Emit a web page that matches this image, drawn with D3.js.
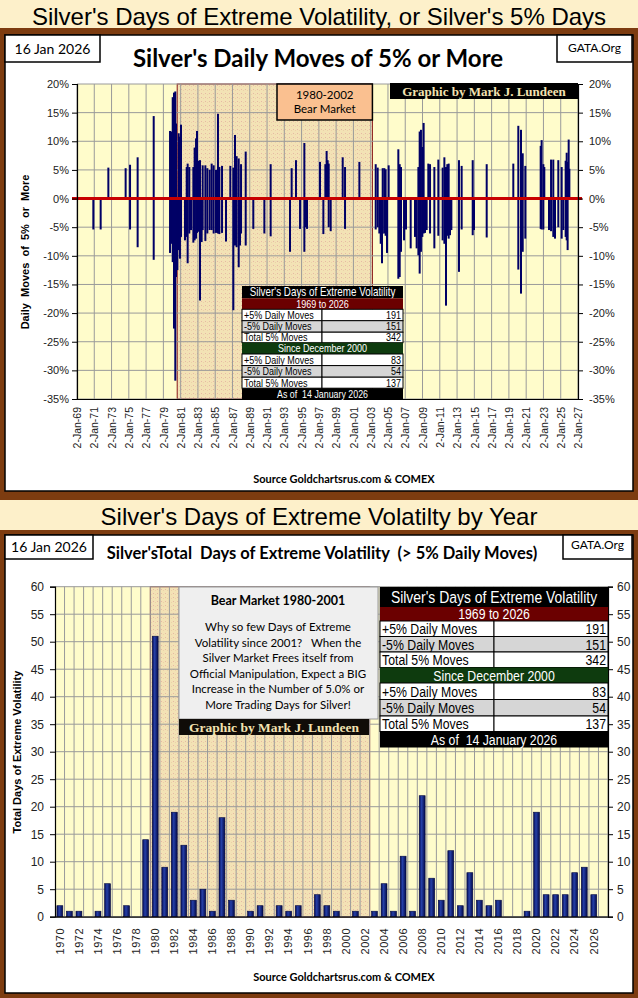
<!DOCTYPE html>
<html>
<head>
<meta charset="utf-8">
<script src="https://cdnjs.cloudflare.com/ajax/libs/d3/7.8.5/d3.min.js"></script>
<style>
body { margin:0; background:#7d3c10; }
svg { display:block; }
</style>
</head>
<body>
<script>
// ---- top chart: daily moves of 5% or more (decimal year, % move) ----
var upYears = [1972.63,1974.63,1975.14,1976.02,1977.88,1979.77,1979.96,
  1980.08,1980.23,1980.38,1980.46,1980.77,1980.92,1981.04,1981.70,1981.81,1982.00,1982.47,1982.62,1982.78,1982.89,
  1983.09,1983.24,1983.55,1983.86,1984.09,1984.36,1984.59,1984.82,1985.09,1985.32,1985.48,1985.79,1986.75,
  1987.10,1987.29,1987.48,1987.72,1987.99,1988.53,1991.42,1993.85,1994.35,1995.32,1997.13,1997.75,1997.90,1998.02,1998.14,
  1999.76,2000.03,2001.69,2003.58,2003.81,2004.39,2004.58,2004.73,2005.08,2006.20,2006.36,2006.51,
  2008.52,2008.67,2008.82,2008.98,2009.13,2009.67,2009.87,2010.37,2010.83,2011.33,2011.53,2011.72,2011.87,2012.03,
  2013.22,2013.53,2014.81,2016.43,2019.51,2020.09,2020.40,2020.60,2020.90,
  2022.68,2022.79,2022.99,2023.10,2023.88,2024.14,2024.72,2025.11,2025.57,2025.69,2025.80,2025.92,2026.00];
var upMoves = [5.4,5.3,5.9,7.2,14.4,11.8,11.7,
  17.7,18.5,18.7,13.1,11.4,10.8,12.9,5.5,6.1,5.5,5.5,8.9,10.5,11.8,
  6.6,6.7,5.8,5.8,5.3,5.0,6.1,5.8,5.0,14.8,5.5,5.7,5.7,
  5.4,11.1,7.4,7.0,6.0,8.2,6.0,5.3,6.7,9.7,6.4,6.0,8.3,6.7,6.1,
  7.2,5.5,6.4,6.0,5.4,5.3,5.3,5.1,5.8,8.6,6.0,5.5,
  5.5,11.7,12.0,9.0,13.2,6.1,6.0,5.5,6.8,5.4,7.2,5.5,6.0,6.1,
  6.7,5.7,6.7,6.0,6.1,12.7,12.0,7.9,5.7,
  9.2,10.2,6.0,5.5,6.8,6.8,6.7,5.5,6.6,8.0,6.4,10.3,5.2];

var downYears = [1970.89,1971.74,1975.14,1976.02,1977.88,1979.77,1979.96,
  1980.08,1980.23,1980.38,1980.46,1980.62,1980.77,1980.92,1981.04,1981.50,1981.70,1981.81,
  1982.00,1982.20,1982.47,1982.62,1982.78,1982.89,1983.09,1983.24,1983.43,1983.55,1983.86,
  1984.09,1984.36,1984.59,1984.82,1985.09,1985.32,1985.48,1985.79,1986.25,
  1987.10,1987.29,1987.48,1987.72,1987.87,1987.99,1988.53,1989.41,1990.69,1991.42,
  1993.66,1994.82,1995.32,1995.51,1995.63,1997.52,1998.14,1998.37,2000.03,
  2003.58,2003.81,2004.00,2004.16,2004.31,2004.39,2004.58,2004.73,2004.89,
  2006.20,2006.36,2006.51,2006.86,2007.09,2007.63,
  2008.13,2008.32,2008.52,2008.67,2008.82,2008.98,2009.13,2009.29,2009.48,2009.87,
  2010.37,2010.83,2011.33,2011.53,2011.72,2011.87,2012.03,2012.18,2012.34,
  2013.22,2013.53,2014.81,2014.96,2016.43,2020.09,2020.40,2020.60,2020.90,
  2022.68,2022.79,2022.99,2023.64,2023.88,2024.14,2024.34,2024.72,2025.11,2025.30,2025.57,2025.69,2025.80];
var downMoves = [-5.4,-5.4,-5.4,-8.5,-10.7,-9.5,-7.9,
  -11.1,-22.7,-31.8,-13.7,-12.5,-9.0,-10.5,-6.7,-7.3,-6.7,-11.3,
  -6.1,-5.5,-7.7,-7.3,-7.0,-6.0,-5.8,-17.8,-7.6,-5.5,-7.4,
  -6.1,-5.5,-5.5,-6.1,-6.0,-6.1,-6.2,-6.0,-7.5,
  -19.5,-8.2,-8.5,-12.0,-8.2,-6.1,-8.2,-5.3,-6.1,-6.6,
  -9.3,-5.3,-9.3,-5.0,-5.3,-6.2,-5.0,-5.7,-5.3,
  -5.4,-5.0,-6.1,-7.9,-11.3,-6.1,-6.1,-6.5,-9.5,
  -14.0,-13.7,-9.3,-7.3,-5.4,-8.7,
  -6.7,-8.7,-9.9,-13.1,-9.3,-6.7,-6.1,-6.0,-5.5,-6.1,
  -8.7,-6.5,-7.3,-7.9,-18.7,-6.5,-7.0,-6.4,-5.5,
  -12.8,-5.4,-6.4,-5.5,-6.8,-12.4,-16.6,-9.3,-7.0,
  -5.3,-5.4,-5.4,-5.5,-5.7,-6.7,-7.0,-5.0,-7.0,-5.5,-6.7,-7.3,-9.0];

var pctTicks = [20, 15, 10, 5, 0, -5, -10, -15, -20, -25, -30, -35];
var dateTicks = d3.range(1969, 2028, 2);       // "2-Jan-69" ... "2-Jan-27"
var bearSpan = [1980.6, 2003.2];

// ---- bottom chart: total days of extreme volatility per year ----
var years = d3.range(1970, 2027);
var yearCounts = [2,1,1,0,1,6,0,2,0,14,
  51,9,19,13,3,5,1,18,3,0,
  1,2,0,2,1,2,0,4,2,1,
  0,1,0,1,6,1,11,1,22,7,
  3,12,2,8,3,2,3,0,0,1,
  19,4,4,4,8,9,4];
var countTicks = [0, 5, 10, 15, 20, 25, 30, 35, 40, 45, 50, 55, 60];
var yearTicks = d3.range(1970, 2027, 2);
var bearYears = [1980, 2002];

// ---- summary table ----
var tableTitle = "Silver's Days of Extreme Volatility";
var tableRanges = ["1969 to 2026", "Since December 2000"];
var moveLabels = ["+5% Daily Moves", "-5% Daily Moves", "Total 5% Moves"];
var movesAll = [191, 151, 342];
var movesSince2000 = [83, 54, 137];
var asOfText = "As of  14 January 2026";

var noteLines = ["Why so few Days of Extreme", "Volatility since 2001?   When the",
  "Silver Market Frees itself from", "Official Manipulation, Expect a BIG",
  "Increase in the Number of 5.0% or", "More Trading Days for Silver!"];

var W = 638, H = 998;
var svg = d3.select("body").append("svg").attr("width", W).attr("height", H);

var defs = svg.append("defs");
var dots = defs.append("pattern").attr("id", "bearDots")
    .attr("width", 4).attr("height", 4).attr("patternUnits", "userSpaceOnUse");
dots.append("rect").attr("width", 4).attr("height", 4).attr("fill", "#f3e2b5");
dots.append("rect").attr("x", 1).attr("y", 1).attr("width", 1).attr("height", 1).attr("fill", "#e6b8a4");
dots.append("rect").attr("x", 3).attr("y", 2).attr("width", 1).attr("height", 1).attr("fill", "#ecd0a8");

var grad = defs.append("linearGradient").attr("id", "barGrad")
    .attr("x1", 0).attr("x2", 1).attr("y1", 0).attr("y2", 0);
grad.append("stop").attr("offset", "0%").attr("stop-color", "#050c55");
grad.append("stop").attr("offset", "40%").attr("stop-color", "#2640a8");
grad.append("stop").attr("offset", "100%").attr("stop-color", "#040a4a");

var sans = "'Liberation Sans', Arial, sans-serif",
    calib = "Lato, 'Open Sans', sans-serif",
    serif = "'Liberation Serif', 'DejaVu Serif', serif";
var squeeze = 0.82;   // no narrow face installed, so squash Liberation Sans

// frame
svg.append("rect").attr("width", W).attr("height", H).attr("fill", "#7d3c10");
svg.append("rect").attr("x", 0).attr("y", 0).attr("width", W).attr("height", 28).attr("fill", "#fdf0ca");
svg.append("rect").attr("x", 0).attr("y", 500).attr("width", W).attr("height", 30).attr("fill", "#fdf0ca");
panel(5, 35, 628, 456);
panel(5, 535, 628, 458);

svg.append("text").attr("x", 319).attr("y", 25).attr("text-anchor", "middle")
    .style("font", "24px " + sans).text("Silver's Days of Extreme Volatility, or Silver's 5% Days");
svg.append("text").attr("x", 319).attr("y", 525).attr("text-anchor", "middle")
    .style("font", "24px " + sans).text("Silver's Days of Extreme Volatilty by Year");

function panel(x, y, w, h) {
    svg.append("rect").attr("x", x).attr("y", y).attr("width", w).attr("height", h)
        .attr("fill", "#fff").attr("stroke", "#000").attr("stroke-width", 1.5);
}

function labelBox(x, y, w, h, txt, size, ty) {
    svg.append("rect").attr("x", x).attr("y", y).attr("width", w).attr("height", h)
        .attr("fill", "#fff").attr("stroke", "#000").attr("stroke-width", 1.5);
    svg.append("text").attr("x", x + w / 2).attr("y", ty).attr("text-anchor", "middle")
        .style("font", size + "px " + calib).text(txt);
}

labelBox(5, 35, 95, 27, "16 Jan 2026", 14, 54);
labelBox(557, 35, 75, 27, "GATA.Org", 12, 52);
svg.append("text").attr("x", 318).attr("y", 67).attr("text-anchor", "middle")
    .style("font", "bold 24px " + calib).text("Silver's Daily Moves of 5% or More");

labelBox(5, 535, 88, 24, "16 Jan 2026", 14, 552);
labelBox(563, 535, 69, 24, "GATA.Org", 12, 549);
svg.append("text").attr("x", 322).attr("y", 559).attr("text-anchor", "middle")
    .style("font", "bold 16.5px " + calib).style("white-space", "pre")
    .text("Silver'sTotal  Days of Extreme Volatility  (> 5% Daily Moves)");

// =================== top chart ===================
var x1 = d3.scaleLinear().domain([1969, 2027]).range([77, 578]);
var y1 = d3.scaleLinear().domain([-35, 20]).range([399, 84]);

var topG = svg.append("g");
topG.append("rect").attr("x", x1(1969)).attr("y", y1(20))
    .attr("width", x1(2027) - x1(1969)).attr("height", y1(-35) - y1(20)).attr("fill", "#fffccb");
topG.append("rect").attr("x", x1(bearSpan[0])).attr("y", y1(20))
    .attr("width", x1(bearSpan[1]) - x1(bearSpan[0])).attr("height", y1(-35) - y1(20))
    .attr("fill", "url(#bearDots)").attr("stroke", "#8b1a1a").attr("stroke-width", 1);

topG.selectAll("line.hg").data(pctTicks).enter().append("line").attr("class", "hg")
    .attr("x1", x1(1969)).attr("x2", x1(2027))
    .attr("y1", function(d) { return y1(d); }).attr("y2", function(d) { return y1(d); })
    .attr("stroke", "#9a9a9a");
topG.selectAll("line.vg").data(dateTicks).enter().append("line").attr("class", "vg")
    .attr("x1", function(d) { return x1(d); }).attr("x2", function(d) { return x1(d); })
    .attr("y1", y1(20)).attr("y2", y1(-35))
    .attr("stroke", "#9a9a9a");

var moves = d3.zip(upYears, upMoves).concat(d3.zip(downYears, downMoves));
topG.selectAll("line.spike").data(moves).enter().append("line").attr("class", "spike")
    .attr("x1", function(d) { return x1(d[0]); }).attr("x2", function(d) { return x1(d[0]); })
    .attr("y1", y1(0)).attr("y2", function(d) { return y1(d[1]); })
    .attr("stroke", "#000066").attr("stroke-width", 2);

topG.append("line").attr("x1", x1(1969) - 5).attr("x2", x1(2027) + 4)
    .attr("y1", y1(0)).attr("y2", y1(0)).attr("stroke", "#c80000").attr("stroke-width", 3);

var pctFmt = function(d) { return d + "%"; };
var axL = topG.append("g").attr("transform", "translate(" + x1(1969) + ",0)")
    .call(d3.axisLeft(y1).tickValues(pctTicks).tickFormat(pctFmt).tickSize(5).tickPadding(3));
var axR = topG.append("g").attr("transform", "translate(" + x1(2027) + ",0)")
    .call(d3.axisRight(y1).tickValues(pctTicks).tickFormat(pctFmt).tickSize(5).tickPadding(6));
var axB = topG.append("g").attr("transform", "translate(0," + y1(-35) + ")")
    .call(d3.axisBottom(x1).tickValues(dateTicks).tickSize(0)
        .tickFormat(function(d) { return "2-Jan-" + String(d).slice(2); }));
axB.selectAll("text").attr("transform", "rotate(-90)").attr("x", -8).attr("y", 0)
    .attr("dy", "0.35em").style("text-anchor", "end");
[axL, axR, axB].forEach(function(a) {
    a.selectAll("text").style("font", "11px " + sans).attr("fill", "#222");
    a.select(".domain").attr("stroke", "#000").attr("stroke-width", 1.2);
});
axB.selectAll("text").style("font-size", "10.5px");

topG.append("text").attr("transform", "translate(29,252) rotate(-90)").attr("text-anchor", "middle")
    .style("font", "bold 11px " + sans).style("white-space", "pre").text("Daily  Moves  of  5%  or  More");

// bear market label
topG.append("rect").attr("x", 277).attr("y", y1(20)).attr("width", x1(bearSpan[1]) - 277).attr("height", 36)
    .attr("fill", "#fac090").attr("stroke", "#000").attr("stroke-width", 1.5);
topG.append("text").attr("x", (277 + x1(bearSpan[1])) / 2).attr("y", 99).attr("text-anchor", "middle")
    .style("font", "11.5px " + calib).text("1980-2002");
topG.append("text").attr("x", (277 + x1(bearSpan[1])) / 2).attr("y", 113).attr("text-anchor", "middle")
    .style("font", "11.5px " + calib).text("Bear Market");

topG.append("rect").attr("x", 390).attr("y", y1(20) - 1).attr("width", x1(2027) - 390).attr("height", 16)
    .attr("fill", "#000");
topG.append("text").attr("x", (390 + x1(2027)) / 2).attr("y", 96).attr("text-anchor", "middle")
    .style("font", "bold 13px " + serif).attr("fill", "#f3e2b0").text("Graphic by Mark J. Lundeen");

drawTable(242, 403, 322, 286, [12.3, 11, 11.4, 11.5, 10.5, 11.3, 11.6, 11.6, 11, 11.7],
    {head: 12, band: 11, row: 11, foot: 10.8});

topG.append("text").attr("x", 344).attr("y", 483).attr("text-anchor", "middle")
    .style("font", "bold 11px " + calib).text("Source  Goldchartsrus.com  & COMEX");

// =================== bottom chart ===================
var x2 = d3.scaleBand().domain(d3.range(1970, 2028)).range([55, 608]);
var y2 = d3.scaleLinear().domain([0, 60]).range([916.7, 586.7]);
var step = x2.step();

var botG = svg.append("g");
botG.append("rect").attr("x", 55).attr("y", y2(60)).attr("width", 608 - 55).attr("height", y2(0) - y2(60))
    .attr("fill", "#fffccb");
botG.append("rect").attr("x", x2(bearYears[0])).attr("y", y2(60))
    .attr("width", x2(bearYears[1]) + step - x2(bearYears[0])).attr("height", y2(0) - y2(60))
    .attr("fill", "url(#bearDots)").attr("stroke", "#8b1a1a").attr("stroke-width", 1);

botG.selectAll("line.hg").data(countTicks).enter().append("line").attr("class", "hg")
    .attr("x1", 55).attr("x2", 608)
    .attr("y1", function(d) { return y2(d); }).attr("y2", function(d) { return y2(d); })
    .attr("stroke", "#9a9a9a");
botG.selectAll("line.vg").data(x2.domain()).enter().append("line").attr("class", "vg")
    .attr("x1", function(d) { return x2(d) + step; }).attr("x2", function(d) { return x2(d) + step; })
    .attr("y1", y2(60)).attr("y2", y2(0))
    .attr("stroke", "#9a9a9a");

botG.selectAll("rect.bar").data(d3.zip(years, yearCounts).filter(function(d) { return d[1] > 0; }))
    .enter().append("rect").attr("class", "bar")
    .attr("x", function(d) { return x2(d[0]) + step * 0.2; })
    .attr("width", step * 0.62)
    .attr("y", function(d) { return y2(d[1]); })
    .attr("height", function(d) { return y2(0) - y2(d[1]); })
    .attr("fill", "url(#barGrad)").attr("stroke", "#030840").attr("stroke-width", 0.6);

var bL = botG.append("g").attr("transform", "translate(55,0)")
    .call(d3.axisLeft(y2).tickValues(countTicks).tickSize(5).tickPadding(6));
var bR = botG.append("g").attr("transform", "translate(608,0)")
    .call(d3.axisRight(y2).tickValues(countTicks).tickSize(5).tickPadding(4));
var bB = botG.append("g").attr("transform", "translate(0," + y2(0) + ")")
    .call(d3.axisBottom(x2).tickValues(yearTicks).tickSize(0));
bB.selectAll("text").attr("transform", "rotate(-90)").attr("x", -11).attr("y", 0)
    .attr("dy", "0.35em").style("text-anchor", "end");
[bL, bR, bB].forEach(function(a) {
    a.selectAll("text").style("font", "12px " + sans).attr("fill", "#222");
    a.select(".domain").attr("stroke", "#000").attr("stroke-width", 1.2);
});
bB.selectAll("text").style("font-size", "11px").style("letter-spacing", "0.6px");

botG.append("text").attr("transform", "translate(21,752) rotate(-90)").attr("text-anchor", "middle")
    .style("font", "bold 11px " + sans).text("Total Days of Extreme Volatility");

// note box
botG.append("rect").attr("x", 179).attr("y", 587).attr("width", 199).attr("height", 132)
    .attr("fill", "#efefef").attr("stroke", "#9a9a9a");
botG.append("text").attr("x", 278).attr("y", 605).attr("text-anchor", "middle")
    .style("font", "bold 12.5px " + calib).text("Bear Market 1980-2001");
botG.selectAll("text.note").data(noteLines).enter().append("text").attr("class", "note")
    .attr("x", 278).attr("y", function(d, i) { return 631 + i * 15.5; }).attr("text-anchor", "middle")
    .style("font", "11.5px " + calib).style("white-space", "pre").text(String);
botG.append("rect").attr("x", 179).attr("y", 719).attr("width", 190).attr("height", 16).attr("fill", "#100c08");
botG.append("text").attr("x", 274).attr("y", 732).attr("text-anchor", "middle")
    .style("font", "bold 13.5px " + serif).attr("fill", "#f3e2b0").text("Graphic by Mark J. Lundeen");

drawTable(380, 608, 494, 587, [20, 14, 15.5, 15.5, 15.5, 15.5, 16.5, 16.5, 15.5, 16],
    {head: 17, band: 15, row: 15, foot: 15});

botG.append("text").attr("x", 344).attr("y", 981).attr("text-anchor", "middle")
    .style("font", "bold 11px " + calib).text("Source Goldchartsrus.com & COMEX");

// squashed text: anchor point (x, y), then scaled horizontally
function narrowText(g, x, y, txt, size, anchor, fill) {
    return g.append("text").attr("transform", "translate(" + x + "," + y + ") scale(" + squeeze + ",1)")
        .attr("dy", "0.36em").attr("text-anchor", anchor).attr("fill", fill)
        .style("font", size + "px " + sans).style("white-space", "pre").text(txt);
}

function drawTable(left, right, split, topY, rowH, fs) {
    var rows = [{kind: "head", text: tableTitle, fill: "#000"},
                {kind: "band", text: tableRanges[0], fill: "#6b0000"}];
    moveLabels.forEach(function(l, i) {
        rows.push({kind: "row", text: l, value: movesAll[i], fill: i == 1 ? "#d6d6d6" : "#fff"});
    });
    rows.push({kind: "band", text: tableRanges[1], fill: "#0e3b0e"});
    moveLabels.forEach(function(l, i) {
        rows.push({kind: "row", text: l, value: movesSince2000[i], fill: i == 1 ? "#d6d6d6" : "#fff"});
    });
    rows.push({kind: "foot", text: asOfText, fill: "#000"});

    var g = svg.append("g"), y = topY;
    rows.forEach(function(r, i) {
        var h = rowH[i], cy = y + h / 2;
        if (r.kind == "row") {
            g.append("rect").attr("x", left).attr("y", y).attr("width", split - left).attr("height", h)
                .attr("fill", r.fill).attr("stroke", "#000").attr("stroke-width", 1);
            g.append("rect").attr("x", split).attr("y", y).attr("width", right - split).attr("height", h)
                .attr("fill", r.fill).attr("stroke", "#000").attr("stroke-width", 1);
            narrowText(g, left + 2, cy, r.text, fs.row, "start", "#000");
            narrowText(g, right - 2, cy, r.value, fs.row, "end", "#000");
        } else {
            g.append("rect").attr("x", left).attr("y", y).attr("width", right - left).attr("height", h)
                .attr("fill", r.fill);
            narrowText(g, (left + right) / 2, cy, r.text, fs[r.kind], "middle", "#fff");
        }
        y += h;
    });
}
</script>
</body>
</html>
